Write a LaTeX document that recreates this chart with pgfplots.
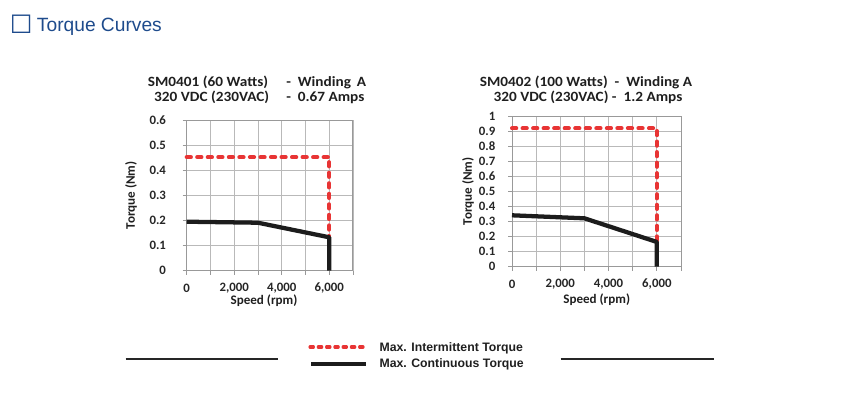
\documentclass[border=0pt]{standalone}
\usepackage{pgfplots}
\pgfplotsset{compat=1.18}
\usepackage{fontspec}
\setmainfont{Carlito}
\newfontfamily\titlefont[FakeStretch=1.08]{Carlito}
\newfontfamily\arial{Liberation Sans}
\newfontfamily\dejavu{DejaVu Sans}
\definecolor{hdrblue}{RGB}{30,75,140}
\definecolor{tqred}{RGB}{232,52,52}
\definecolor{tqblack}{RGB}{28,28,28}
\definecolor{gridgray}{RGB}{185,185,185}

\pgfplotsset{
  tqaxis/.style={
    scale only axis,
    height=113pt,
    xmin=0, xmax=7000, ymin=0,
    xtick={0,2000,4000,6000},
    minor xtick={1000,3000,5000,7000},
    grid=both,
    major grid style={gridgray, line width=0.6pt},
    minor grid style={gridgray, line width=0.6pt},
    axis line style={draw=gray!80, line width=0.7pt},
    xtick pos=bottom, ytick pos=left,
    tick align=outside,
    major tick length=3pt,
    minor tick length=3pt,
    every tick/.style={gray!80, line width=0.6pt},
    every minor tick/.style={gray!80, line width=0.6pt},
    ticklabel style={font=\fontsize{9.6}{10}\selectfont\bfseries, text=black!85},
    /pgf/number format/assume math mode=true,
    scaled x ticks=false,
    xticklabel style={/pgf/number format/.cd, 1000 sep={,}, /tikz/.cd, anchor=center, yshift=-10pt},
    yticklabel style={/pgf/number format/.cd, fixed, precision=1, /tikz/.cd, anchor=east},
    clip=false,
  },
  intermit/.style={color=tqred, line width=3pt, line cap=round, dash pattern=on 3.2pt off 4.7pt},
  contin/.style={color=tqblack, line width=3.2pt, line join=round},
}

\begin{document}
\begin{tikzpicture}
\path[use as bounding box] (0pt,0pt) rectangle (648pt,-300.75pt);

% ---------- Left chart ----------
\begin{axis}[tqaxis, at={(140pt,-203pt)}, anchor=south west, width=124.7pt,
  ymax=0.6, ytick={0,0.1,0.2,0.3,0.4,0.5,0.6},
  yticklabel style={xshift=-9pt}]
\addplot[intermit] coordinates {(0,0.452) (6000,0.452) (6000,0.133)};
\addplot[contin] coordinates {(0,0.195) (3000,0.191) (6000,0.133) (6000,0)};
\end{axis}

% ---------- Right chart ----------
\begin{axis}[tqaxis, at={(384pt,-200pt)}, anchor=south west, width=126.75pt,
  ymax=1, ytick={0,0.1,0.2,0.3,0.4,0.5,0.6,0.7,0.8,0.9,1},
  yticklabel style={xshift=-6pt}]
\addplot[intermit] coordinates {(0,0.918) (6000,0.918) (6000,0.164)};
\addplot[contin] coordinates {(0,0.341) (3000,0.321) (6000,0.164) (6000,0)};
\end{axis}

\begin{scope}[x=0.75pt, y=-0.75pt]
% header
\node[anchor=base west, inner sep=0, text=hdrblue, font=\dejavu\fontsize{19}{20}\selectfont] at (9.5,33.5) {☐};
\node[anchor=base west, inner sep=0, text=hdrblue, font=\arial\fontsize{14.4}{16}\selectfont] at (36.7,31.7) {Torque Curves};

% left title
\begin{scope}[every node/.style={inner sep=0, font=\titlefont\bfseries\fontsize{10.6}{12}\selectfont, text=black!88}]
\node[anchor=base] at (208,86) {SM0401 (60 Watts)};
\node[anchor=base] at (211.7,101) {320 VDC (230VAC)};
\node[anchor=base west] at (286,86) {-\ \ Winding\ \,A};
\node[anchor=base west] at (286,101) {-\ \ 0.67 Amps};
% right title
\node[anchor=base] at (586,86) {SM0402 (100 Watts)\ \ -\ \ Winding A};
\node[anchor=base] at (588,101) {320 VDC (230VAC)\ -\ \ 1.2 Amps};
\end{scope}

% axis labels
\begin{scope}[every node/.style={inner sep=0, font=\bfseries\fontsize{9.8}{10}\selectfont, text=black!88}]
\node[rotate=90] at (131,195.3) {Torque (Nm)};
\node[rotate=90] at (468,191.3) {Torque (Nm)};
\node at (264,300.7) {Speed (rpm)};
\node at (596.7,300) {Speed (rpm)};
\end{scope}

% legend
\draw[color=tqred, line width=2.3pt, line cap=round, dash pattern=on 2.6pt off 3.6pt] (310,347) -- (366,347);
\draw[color=tqblack, line width=3pt] (311,364) -- (366,364);
\node[anchor=base west, inner sep=0, font=\arial\bfseries\fontsize{9.2}{10}\selectfont, text=black!88] at (379.3,351.7) {Max. Intermittent Torque};
\node[anchor=base west, inner sep=0, font=\arial\bfseries\fontsize{9.2}{10}\selectfont, text=black!88] at (379.3,367.9) {Max. Continuous Torque};
\draw[color=black!85, line width=1pt] (125.7,359) -- (278,359);
\draw[color=black!85, line width=1pt] (560.7,359) -- (714,359);
\end{scope}
\end{tikzpicture}
\end{document}
